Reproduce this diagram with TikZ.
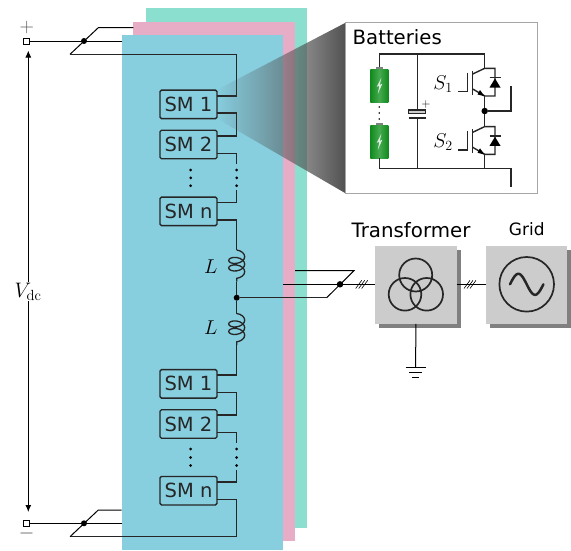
\documentclass[tikz,border=0pt]{standalone}
\usepackage{fix-cm}
\usepackage{amsmath}
\usepackage[no-math]{fontspec}
\setmainfont{DejaVu Sans}
\usetikzlibrary{arrows.meta}
\usetikzlibrary{decorations.pathmorphing}
\usetikzlibrary{fadings}
\usetikzlibrary{positioning}
\definecolor{cpanelg}{RGB}{138, 223, 206}
\definecolor{cpanelp}{RGB}{231, 172, 198}
\definecolor{cpanelb}{RGB}{135, 206, 223}
\definecolor{cbox}{RGB}{204, 204, 204}
\definecolor{cshadow}{RGB}{128, 128, 128}
\definecolor{cbatt}{RGB}{16, 138, 30}
\definecolor{cbattl}{RGB}{70, 170, 80}
\tikzset{
    wire/.style={line width=1.4pt, black!85},
    thinwire/.style={line width=1pt, black},
    smbox/.style={draw, line width=1.4pt, black!85, rounded corners=1.5pt, minimum width=57pt, minimum height=28.5pt, inner sep=0pt, font=\fontsize{19.5}{20}\selectfont},
    junction/.style={circle, fill=black, inner sep=0pt, minimum size=#1},
    terminal/.style={draw, line width=1pt, fill=white, inner sep=0pt, minimum size=6pt},
    hbox/.style={fill=cbox, minimum width=81.5pt, minimum height=78pt, inner sep=0pt},
    hlabel/.style={font=\fontsize{#1}{20}\selectfont},
    indcoil/.style={line width=1.3pt, black!85, decoration={coil, aspect=0.6, segment length=7.5pt, amplitude=8pt}, decorate},
    battery/.style={rectangle, minimum width=18pt, minimum height=33pt, inner sep=0pt, left color=cbatt, right color=cbatt, middle color=cbattl},
}

\begin{document}
\begin{tikzpicture}[x=1pt, y=-1pt]

\useasboundingbox (0, 0) rectangle (571, 550);

% panels for the three phases
\fill [cpanelg] (145.7, 8) rectangle (306.7, 527.7);
\fill [cpanelp] (133.3, 22) rectangle (295, 541);
\fill [cpanelb] (121.7, 35) rectangle (283, 550);

% dc terminals
\node [terminal] (termp) at (26.7, 41) {};
\node [terminal] (termn) at (26.7, 523.3) {};
\node [hlabel=20, black!65] (plus) at (26.7, 27.7) {$+$};
\node [hlabel=20, black!65] (minus) at (26.7, 533) {$-$};
\coordinate (vtop) at (28.3, 50.5);
\coordinate (vbot) at (28.3, 512);
\draw [thinwire, {Latex[length=7pt, width=6pt]}-{Latex[length=7pt, width=6pt]}] (vtop) -- (vbot);
\node [fill=white, inner sep=1pt, hlabel=21] (vdc) at (28, 291.5) {$V_{\mathrm{dc}}$};

% submodules
\node [smbox] (sma) at (188.5, 104.3) {SM 1};
\node [smbox] (smb) at (188.5, 144.5) {SM 2};
\node [smbox] (smn) at (188.5, 211.3) {SM n};
\node [smbox] (smc) at (188.5, 383.8) {SM 1};
\node [smbox] (smd) at (188.5, 424) {SM 2};
\node [smbox] (smm) at (188.5, 490.7) {SM n};

% upper arm
\node [junction=6pt] (busp) at (84, 41) {};
\node [junction=6pt] (mid) at (236.7, 297.7) {};
\coordinate (buspa) at (98.3, 27.7);
\coordinate (buspb) at (70, 54.3);
\draw [thinwire] (termp) -- (121.7, 41);
\draw [thinwire] (133.3, 27.7) -- (buspa) -- (buspb);
\draw [wire] (buspb) -- (236.7, 54.3) -- (236.7, 96) -- (216.7, 96);
\draw [wire] (216.7, 113) -- (236.7, 113) -- (236.7, 136) -- (216.7, 136);
\draw [wire] (216.7, 153.3) -- (236.7, 153.3) -- (236.7, 164);
\draw [wire] (236.7, 190) -- (236.7, 202.3) -- (216.7, 202.3);
\draw [wire] (216.7, 220) -- (236.7, 220) -- (236.7, 250);
\draw [indcoil] (236.7, 250) -- (236.7, 281.7);
\draw [wire] (236.7, 281.7) -- (mid);
\draw [wire] (mid) -- (236.7, 313.5);
\draw [indcoil] (236.7, 313.5) -- (236.7, 345);

% lower arm
\node [junction=6pt] (busn) at (84, 523.3) {};
\coordinate (busna) at (98.3, 510);
\coordinate (busnb) at (70, 536.7);
\draw [wire] (236.7, 345) -- (236.7, 375) -- (216.7, 375);
\draw [wire] (216.7, 392.7) -- (236.7, 392.7) -- (236.7, 415) -- (216.7, 415);
\draw [wire] (216.7, 432.3) -- (236.7, 432.3) -- (236.7, 442.5);
\draw [wire] (236.7, 470) -- (236.7, 482) -- (216.7, 482);
\draw [wire] (216.7, 499.5) -- (236.7, 499.5) -- (236.7, 536.7) -- (busnb);
\draw [thinwire] (termn) -- (121.7, 523.3);
\draw [thinwire] (121.7, 510) -- (busna) -- (busnb);

\foreach \y in {170, 177.8, 185.7, 449, 457.5, 465.5} {
    \fill (190.7, \y) circle (1.5);
    \fill (236.7, \y) circle (1.5);
}

\node [hlabel=20] (la) at (210.7, 267) {$L$};
\node [hlabel=20] (lb) at (210.7, 328) {$L$};

% zoom cone
\fill [black!68, path fading=west] (216.7, 90) -- (345, 23) -- (345, 193) -- (216.7, 118.5) -- cycle;

% inset
\draw [fill=white, draw=black!35, line width=1pt] (345, 22.5) rectangle (537.5, 193.5);
\node [hlabel=19.7, anchor=base west, inner sep=0pt] (battlabel) at (352.5, 44.5) {Batteries};

\node [battery] (batta) at (379.3, 85.5) {};
\node [battery] (battb) at (379.3, 141.5) {};
\foreach \b in {batta, battb} {
    \fill [black!50] ([xshift=-3.5pt]\b.north) rectangle ([xshift=3.5pt, yshift=2pt]\b.north);
    \fill [white!85!cbatt] ([xshift=2pt, yshift=-9pt]\b.north) -- ([xshift=-2.5pt, yshift=-18pt]\b.north) -- ([xshift=0pt, yshift=-17pt]\b.north) -- ([xshift=-1.5pt, yshift=-25pt]\b.north) -- ([xshift=3pt, yshift=-15pt]\b.north) -- ([xshift=0.5pt, yshift=-16pt]\b.north) -- cycle;
}
\foreach \y in {107, 113, 119}
    \fill (379.3, \y) circle (0.9);

\coordinate (dctop) at (484.7, 54);
\coordinate (dcbot) at (484.7, 168.3);
\draw [wire] (batta.north) ++(0, -2) -- (379.3, 54) -- (dctop);
\draw [wire] (battb.south) -- (379.3, 168.3) -- (511, 168.3) -- (511, 187);
\draw [wire] (417.3, 54) -- (417.3, 110);
\draw [wire] (417.3, 118) -- (417.3, 168.3);
\draw [wire, fill=cbox] (408.7, 110) rectangle (425.7, 113.5);
\draw [wire] (408.7, 118) -- (425.7, 118);
\node [hlabel=12, inner sep=0pt] (capplus) at (426, 104) {$+$};

% igbt legs
\foreach \s in {0, 58.3} {
    \draw [wire] (472.7, {70.5+\s}) -- (472.7, {95+\s});
    \draw [wire] (467.7, {72.5+\s}) -- (467.7, {91.7+\s}) -- (457.5, {91.7+\s});
    \draw [wire] (472.7, {74+\s}) -- (484.7, {68.3+\s}) -- (495, {68.3+\s}) -- (495, {96+\s}) -- (484.7, {96+\s});
    \draw [wire] (472.7, {89+\s}) -- (484.7, {96+\s});
    \fill (484.5, {96.2+\s}) -- (477.5, {94.5+\s}) -- (480, {90+\s}) -- cycle;
    \fill (495, {78.5+\s}) ++(-5.5, 9) -- ++(11, 0) -- ++(-5.5, -9) -- cycle;
    \draw [wire] (489.5, {77.7+\s}) -- (500.5, {77.7+\s});
}
\node [junction=6.5pt] (leg) at (484.7, 111) {};
\draw [wire] (dctop) -- (484.7, 68.3);
\draw [wire] (484.7, 96) -- (leg) -- (484.7, 126.7);
\draw [wire] (484.7, 154.3) -- (dcbot);
\draw [wire] (leg) -- (511, 111) -- (511, 86);
\node [hlabel=20] (sa) at (443, 84) {$S_1$};
\node [hlabel=20] (sb) at (443, 142.5) {$S_2$};

% ac side
\fill [cshadow] (379.3, 250) rectangle (461, 327.7);
\fill [cshadow] (490.3, 250) rectangle (571, 327.7);
\node [hbox] (trafo) at (415.8, 284.7) {};
\node [hbox] (gridb) at (526.7, 284.7) {};
\node [hlabel=19.8] (trlabel) at (411, 230.5) {Transformer};
\node [hlabel=17] (grlabel) at (526.7, 229.5) {Grid};

\node [junction=6.5pt] (bus) at (340, 284.3) {};
\coordinate (busa) at (354, 270.7);
\coordinate (busb) at (326.7, 297.7);
\draw [thinwire] (295, 270.7) -- (busa) -- (busb);
\draw [wire] (busb) -- (mid);
\draw [thinwire] (283, 284.3) -- (trafo.west |- bus);
\draw [thinwire] (456.5, 284.3) -- (486, 284.3);
\foreach \x in {358.7, 361.7, 364.7, 467, 470, 473}
    \draw [semithick] (\x-3, 288.5) -- (\x+3, 280.3);

\draw [line width=1.7pt, black!85] (415.7, 275) circle (16.5);
\draw [line width=1.7pt, black!85] (405, 294.3) circle (16.3);
\draw [line width=1.7pt, black!85] (426.7, 294.3) circle (16.3);
\draw [line width=1.7pt, black!85] (526.7, 284.3) circle (27.3);
\draw [line width=2.5pt, black!85, line cap=round] plot [domain=0:360, samples=50] ({510+\x/360*33.4}, {284.3-10.5*sin(\x)});

% ground
\coordinate (gnd) at (415.7, 367.7);
\draw [thinwire] (trafo.south) -- (gnd);
\draw [thinwire] (405.7, 367.7) -- (425.7, 367.7);
\draw [thinwire] (409, 372.3) -- (422.4, 372.3);
\draw [thinwire] (412.3, 377) -- (419.1, 377);

\end{tikzpicture}
\end{document}
